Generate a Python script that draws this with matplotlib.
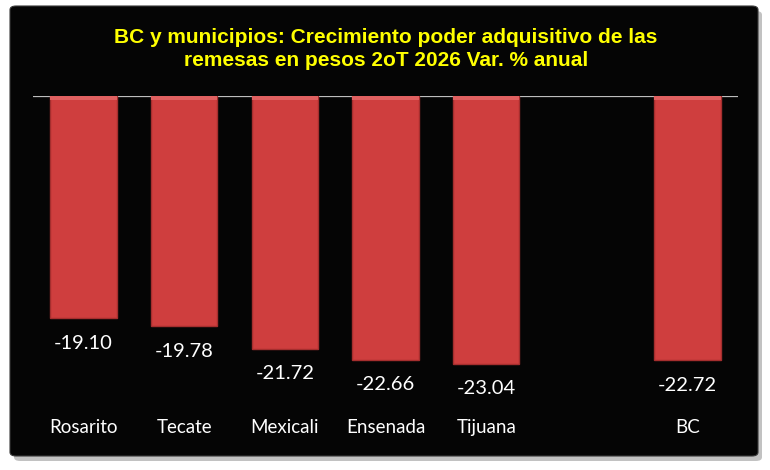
import matplotlib
matplotlib.use("Agg")
import matplotlib.pyplot as plt
from matplotlib.patches import FancyBboxPatch
import numpy as np

categories = ["Rosarito", "Tecate", "Mexicali", "Ensenada", "Tijuana", "", "BC"]
values = [-19.10, -19.78, -21.72, -22.66, -23.04, None, -22.72]
title = "BC y municipios: Crecimiento poder adquisitivo de las\nremesas en pesos 2oT 2026 Var. % anual"

W, H = 770, 470
fig = plt.figure(figsize=(W / 100, H / 100), dpi=100)
fig.patch.set_facecolor("white")

# shadow + black panel
shadow = FancyBboxPatch((14 / W, 1 - 461 / H), 748 / W, 450 / H,
                        boxstyle="round,pad=0,rounding_size=0.008",
                        transform=fig.transFigure, facecolor="#9a9a9a",
                        edgecolor="none", alpha=0.6, zorder=0)
panel = FancyBboxPatch((10 / W, 1 - 456 / H), 748 / W, 450 / H,
                       boxstyle="round,pad=0,rounding_size=0.008",
                       transform=fig.transFigure, facecolor="#050505",
                       edgecolor="#3a3a3a", linewidth=0.8, zorder=1)
fig.patches.extend([shadow, panel])

left, right = 33 / W, 738 / W
top = 1 - 96 / H
ppu = 11.63
ymin = -30
bottom = 1 - (96 + 30 * ppu) / H
ax = fig.add_axes([left, bottom, right - left, top - bottom])
ax.set_facecolor("none")
ax.set_zorder(2)

x = np.arange(len(categories))
for xi, v in zip(x, values):
    if v is None:
        continue
    ax.bar(xi, v, width=0.66, color="#cf3e3e", edgecolor="#a52e2e",
           linewidth=1.0, zorder=3)
    # subtle top bevel
    ax.bar(xi, -0.35, width=0.66, color="#e06060", edgecolor="none", zorder=4)
    ax.text(xi, v - 2.15, f"{v:.2f}", ha="center", va="center",
            color="white", fontsize=14.5, family="Lato", zorder=5)
    ax.text(xi, -28.5, categories[xi], ha="center", va="center",
            color="white", fontsize=13.5, family="Lato", zorder=5)

ax.axhline(0, color="#bdbdbd", linewidth=0.9, zorder=2)
ax.set_xlim(-0.5, len(categories) - 0.5)
ax.set_ylim(ymin, 0)
ax.axis("off")

fig.text(386 / W, 1 - 49 / H, title, ha="center", va="center",
         color="#ffff00", fontsize=15, fontweight="bold",
         family="Liberation Sans", linespacing=1.3, zorder=5)

fig.savefig("out.png", dpi=100, facecolor=fig.get_facecolor())
